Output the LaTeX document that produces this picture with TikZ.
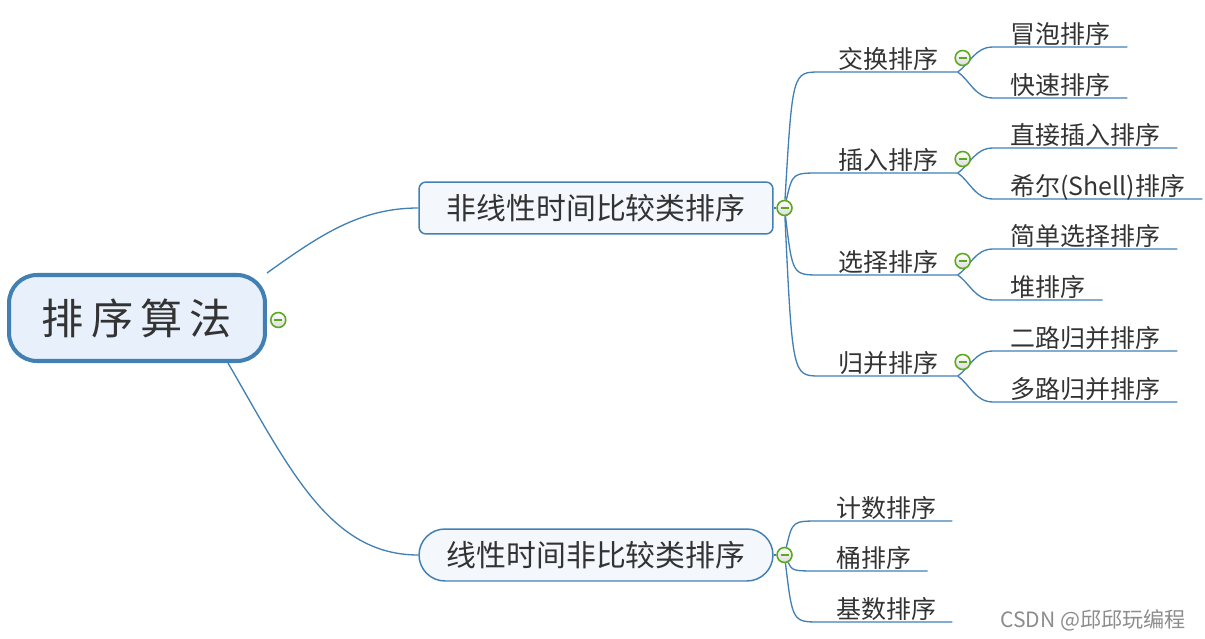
\documentclass[tikz,border=0pt]{standalone}
\usepackage{fontspec}
\setmainfont{Noto Sans CJK SC}
\usepackage{tikz}
\usetikzlibrary{positioning, calc}
\pgfdeclarelayer{bg}
\pgfsetlayers{bg,main}

\definecolor{mapblue}{RGB}{66,128,180}
\definecolor{rootfill}{RGB}{232,241,251}
\definecolor{topicfill}{RGB}{244,248,253}
\definecolor{mgreen}{RGB}{92,168,30}
\definecolor{ink}{RGB}{51,51,51}

\tikzset{
  branch/.style={draw=mapblue, line width=0.75pt},
  rootnode/.style={rectangle, rounded corners=0.56cm, draw=mapblue, line width=2.3pt, fill=rootfill,
    minimum width=5.12cm, minimum height=1.72cm, text=ink, font=\fontsize{24}{28}\selectfont},
  topic/.style={rectangle, rounded corners=0.14cm, draw=mapblue, line width=0.85pt, fill=topicfill,
    minimum width=7.08cm, minimum height=1.04cm, text=ink, font=\fontsize{17}{20}\selectfont},
  sub/.style={anchor=south west, inner xsep=0.32cm, inner ysep=0pt, text depth=0.18em, text=ink,
    font=\fontsize{14.2}{17}\selectfont},
  leaf/.style={sub, inner xsep=0.34cm},
  minus/.style={circle, draw=mgreen, line width=0.9pt, top color=white, bottom color=black!14,
    minimum size=0.3cm, inner sep=0pt,
    path picture={\draw[mgreen, line width=1.2pt] ([xshift=-0.08cm]path picture bounding box.center)
      -- ([xshift=0.08cm]path picture bounding box.center);}}
}

\begin{document}
\begin{tikzpicture}[x=0.02cm, y=-0.02cm]
  \useasboundingbox (0,0) rectangle (1205,639);
  % root and main topics
  \node[rootnode](root) at (137,318){排\hspace{0.17em}序\hspace{0.17em}算\hspace{0.17em}法};
  \node[minus, right=0.06cm of root, yshift=-0.04cm](m0){};
  \node[topic](A) at (596,208){非线性时间比较类排序};
  \node[topic, rounded corners=0.52cm](B) at (596,555){线性时间非比较类排序};
  \node[minus, right=0.05cm of A](mA){};
  \node[minus, right=0.05cm of B](mB){};

  % second level
  \node[sub, minimum width=2.74cm](jh) at (820,72){交换排序};
  \node[sub, minimum width=2.74cm](cr) at (820,173){插入排序};
  \node[sub, minimum width=2.74cm](xz) at (820,275){选择排序};
  \node[sub, minimum width=2.74cm](gb) at (820,376){归并排序};
  \node[sub](js) at (820,521){计数排序};
  \node[sub](tong) at (820,571){桶排序};
  \node[sub](jishu) at (820,622){基数排序};
  \foreach \n in {jh,cr,xz,gb}
    \node[minus](m\n) at ($(\n.south east)+(5,-14)$){};

  % third level
  \node[leaf](mp) at (993,47){冒泡排序};
  \node[leaf](ks) at (993,98){快速排序};
  \node[leaf](zj) at (993,148){直接插入排序};
  \node[leaf](xe) at (993,199){希尔(Shell)排序};
  \node[leaf](jd) at (993,249){简单选择排序};
  \node[leaf](dui) at (993,300){堆排序};
  \node[leaf](el) at (993,351){二路归并排序};
  \node[leaf](dl) at (993,402){多路归并排序};

  \node[anchor=east, text=black!45, font=\fontsize{12}{14}\selectfont](wm) at (1192,620){CSDN @邱邱玩编程};

  % connectors
  \begin{pgfonlayer}{bg}
    \draw[branch] (root.north east) .. controls (320,235) and (360,208) .. (A.west);
    \draw[branch] ([xshift=-0.78cm]root.south east) .. controls (290,470) and (330,555) .. (B.west);
    \draw[branch] (A.east) -- (mA) (B.east) -- (mB);
    \foreach \n in {jh,cr,xz,gb}
      \draw[branch] (mA) .. controls ($(mA |- \n.south west)+(8,0)$) .. (\n.south west) -- (\n.south east);
    \foreach \n in {js,tong,jishu}
      \draw[branch] (mB) .. controls ($(mB |- \n.south west)+(8,0)$) .. (\n.south west) -- (\n.south east);
    \foreach \pa/\ua/\da in {jh/mp/ks, cr/zj/xe, xz/jd/dui, gb/el/dl}{
      \draw[branch] (\pa.south east) .. controls +(12,-8) and +(-18,0) .. (\ua.south west) -- (\ua.south east);
      \draw[branch] (\pa.south east) .. controls +(12,8) and +(-18,0) .. (\da.south west) -- (\da.south east);
    }
  \end{pgfonlayer}
\end{tikzpicture}
\end{document}
